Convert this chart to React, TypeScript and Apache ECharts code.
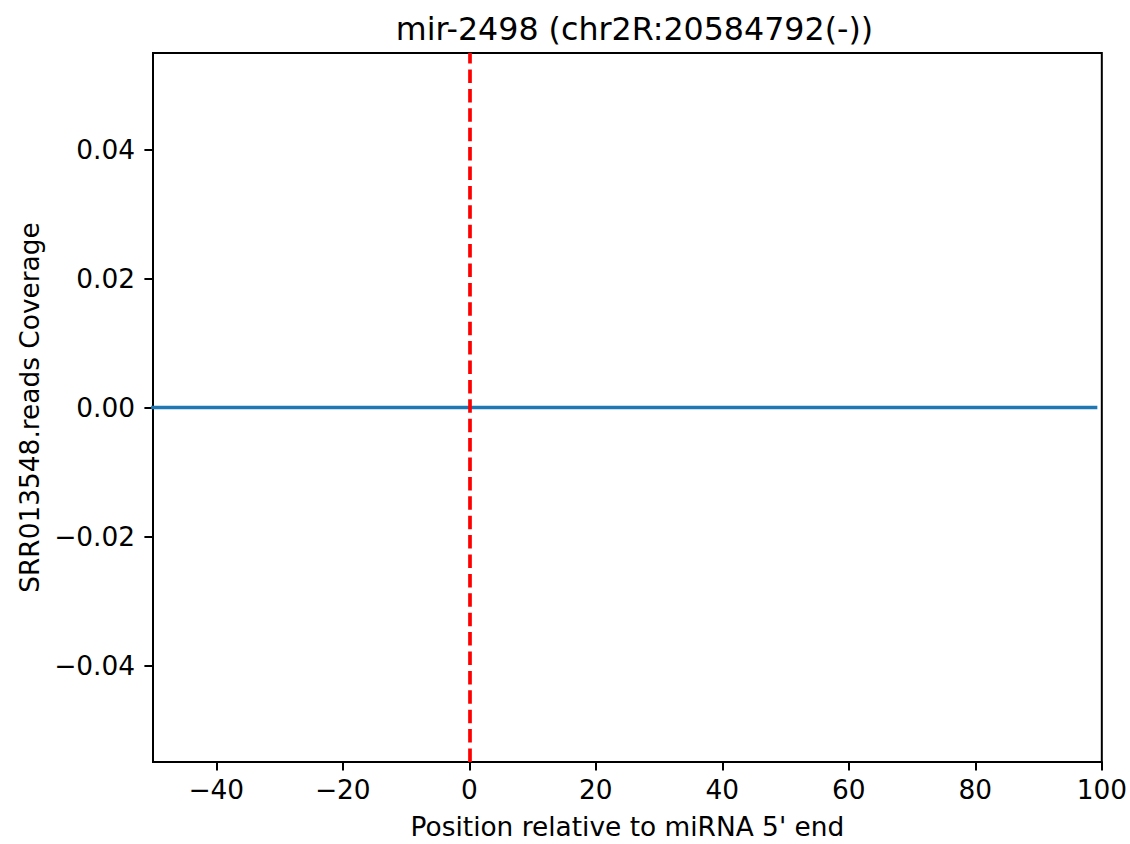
import React, { useEffect, useRef } from "react";
import * as echarts from "echarts";

const titleText = "mir-2498 (chr2R:20584792(-))";
const xAxisName = "Position relative to miRNA 5' end";
const yAxisName = "SRR013548.reads Coverage";
const positions = [-50, 99];
const coverage = [0, 0];
const xTicks = [-40, -20, 0, 20, 40, 60, 80, 100];
const yTicks = [-0.04, -0.02, 0, 0.02, 0.04];
const mirnaStart = 0;

const FONT = "DejaVu Sans";
const FS = 26.4;
const minus = (s: string) => s.replace("-", "\u2212");

export default function App() {
  const ref = useRef<HTMLDivElement>(null);
  useEffect(() => {
    document.body.style.margin = "0";
    const chart = echarts.init(ref.current!, null, { renderer: "svg" });
    chart.setOption({
      animation: false,
      backgroundColor: "#ffffff",
      title: {
        text: titleText,
        left: 629.5,
        top: 8,
        textAlign: "center",
        textStyle: { fontFamily: FONT, fontSize: 31.7, fontWeight: "normal", color: "#000" },
      },
      grid: {
        left: 153,
        right: 24,
        top: 53,
        bottom: 80,
        show: true,
        borderColor: "#000",
        borderWidth: 2,
        backgroundColor: "transparent",
      },
      xAxis: {
        type: "value",
        min: -50,
        max: 100,
        name: xAxisName,
        nameLocation: "middle",
        nameGap: 51,
        nameTextStyle: { fontFamily: FONT, fontSize: FS, color: "#000" },
        splitLine: { show: false },
        axisLine: { show: true, onZero: false, lineStyle: { color: "#000", width: 2 } },
        axisTick: { show: true, length: 8.6, customValues: xTicks, lineStyle: { color: "#000", width: 2 } },
        axisLabel: {
          customValues: xTicks,
          margin: 14,
          fontFamily: FONT,
          fontSize: FS,
          color: "#000",
          formatter: (v: number) => minus(String(v)),
        },
      },
      yAxis: {
        type: "value",
        min: -0.055,
        max: 0.055,
        name: yAxisName,
        nameLocation: "middle",
        nameGap: 111,
        nameTextStyle: { fontFamily: FONT, fontSize: FS, color: "#000" },
        splitLine: { show: false },
        axisLine: { show: true, onZero: false, lineStyle: { color: "#000", width: 2 } },
        axisTick: { show: true, length: 8.6, customValues: yTicks, lineStyle: { color: "#000", width: 2 } },
        axisLabel: {
          customValues: yTicks,
          margin: 18,
          fontFamily: FONT,
          fontSize: FS,
          color: "#000",
          formatter: (v: number) => minus(v.toFixed(2)),
        },
      },
      series: [
        {
          type: "line",
          data: positions.map((p, i) => [p, coverage[i]]),
          showSymbol: false,
          symbol: "none",
          clip: true,
          lineStyle: { color: "#1f77b4", width: 3.7, cap: "square" },
          markLine: {
            silent: true,
            symbol: "none",
            label: { show: false },
            lineStyle: { color: "#ff0000", width: 3.7, type: [13.5, 5.9], cap: "butt" },
            data: [{ xAxis: mirnaStart }],
          },
        },
      ],
    });
    return () => chart.dispose();
  }, []);
  return <div ref={ref} style={{ width: 1130, height: 844 }} />;
}
